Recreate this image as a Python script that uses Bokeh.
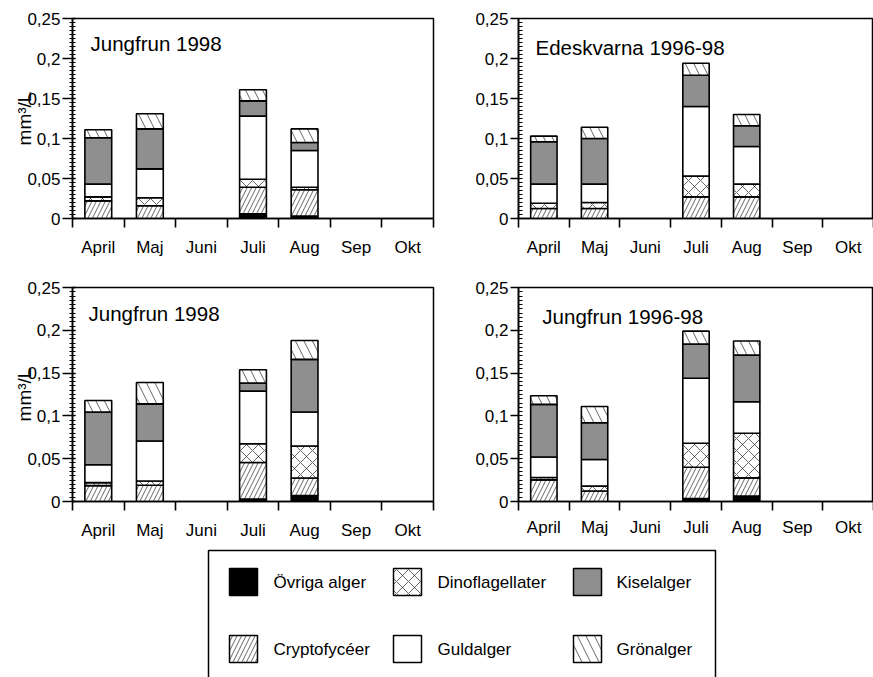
from bokeh.plotting import figure
from bokeh.layouts import column, row
from bokeh.models import Range1d, FixedTicker, ColumnDataSource, Label
from bokeh.embed import file_html
from bokeh.resources import INLINE
from bokeh.core.properties import value

FONT = "Liberation Sans"

# ---------------- data ----------------
months = ["April", "Maj", "Juni", "Juli", "Aug", "Sep", "Okt"]
bar_months = ["April", "Maj", "Juli", "Aug"]
series = ["Övriga alger", "Cryptofycéer", "Dinoflagellater", "Guldalger", "Kiselalger", "Grönalger"]

y_ticks = [0.0, 0.05, 0.1, 0.15, 0.2, 0.25]
y_tick_labels = ["0", "0,05", "0,1", "0,15", "0,2", "0,25"]

# Panel A: Jungfrun 1998 (top)  -- segment heights (mm3/L) for April, Maj, Juli, Aug
a_ovriga = [0.0, 0.0, 0.006, 0.003]
a_crypto = [0.022, 0.016, 0.033, 0.033]
a_dino = [0.005, 0.010, 0.010, 0.003]
a_guld = [0.016, 0.036, 0.079, 0.046]
a_kisel = [0.058, 0.050, 0.019, 0.010]
a_gron = [0.010, 0.019, 0.014, 0.017]

# Panel B: Edeskvarna 1996-98
b_ovriga = [0.0, 0.0, 0.0, 0.0]
b_crypto = [0.0125, 0.0125, 0.027, 0.027]
b_dino = [0.0065, 0.0075, 0.026, 0.016]
b_guld = [0.024, 0.023, 0.087, 0.047]
b_kisel = [0.053, 0.057, 0.039, 0.026]
b_gron = [0.007, 0.014, 0.015, 0.014]

# Panel C: Jungfrun 1998 (bottom)
c_ovriga = [0.0, 0.0, 0.003, 0.007]
c_crypto = [0.0185, 0.019, 0.0425, 0.0204]
c_dino = [0.0035, 0.005, 0.022, 0.0374]
c_guld = [0.021, 0.0466, 0.0615, 0.0397]
c_kisel = [0.0615, 0.0434, 0.0095, 0.0615]
c_gron = [0.0135, 0.025, 0.0155, 0.022]

# Panel D: Jungfrun 1996-98
d_ovriga = [0.0, 0.0, 0.0035, 0.0065]
d_crypto = [0.0253, 0.0123, 0.0365, 0.0211]
d_dino = [0.0027, 0.0057, 0.028, 0.0522]
d_guld = [0.024, 0.031, 0.076, 0.0368]
d_kisel = [0.0615, 0.043, 0.040, 0.0544]
d_gron = [0.010, 0.019, 0.015, 0.0165]

# ---------------- styles ----------------
fills = ["black", "white", "white", "white", "#8f8f8f", "white"]
hatches = [" ", "right_diagonal_line", "diagonal_cross", " ", " ", "left_diagonal_line"]
hatch_scales = [8, 9, 12, 8, 8, 17]


def make_panel(title, cols, width, height, left, right, top, bottom,
               title_x, title_y, ylabel, tick_cross, label_standoff):
    p = figure(width=width, height=height, x_range=Range1d(0, 7), y_range=Range1d(0, 0.25),
               output_backend="svg", toolbar_location=None,
               min_border_left=left, min_border_right=right,
               min_border_top=top, min_border_bottom=bottom)
    p.grid.visible = False
    p.outline_line_color = "black"
    p.outline_line_width = 1.5
    p.background_fill_color = "white"
    p.border_fill_color = "white"

    data = {"x": [months.index(m) + 0.5 for m in bar_months]}
    for s, vals in zip(series, cols):
        data[s] = vals
    src = ColumnDataSource(data)
    p.vbar_stack(series, x="x", width=0.52, source=src,
                 fill_color=fills, line_color="black", line_width=1.6,
                 hatch_pattern=hatches, hatch_color="black",
                 hatch_scale=hatch_scales, hatch_weight=0.6)

    # x axis: labels centred, ticks at category boundaries
    xa = p.xaxis[0]
    xa.ticker = FixedTicker(ticks=[i + 0.5 for i in range(len(months))],
                            minor_ticks=list(range(len(months) + 1)))
    xa.major_label_overrides = {i + 0.5: m for i, m in enumerate(months)}
    xa.major_tick_out = 0
    xa.major_tick_in = 0
    xa.minor_tick_out = 9
    xa.minor_tick_in = 0
    xa.major_label_standoff = label_standoff
    xa.major_label_text_font = FONT
    xa.major_label_text_font_size = "17px"
    xa.major_label_text_color = "black"
    xa.axis_line_width = 1.6
    xa.minor_tick_line_width = 1.6

    ya = p.yaxis[0]
    ya.ticker = FixedTicker(ticks=y_ticks, minor_ticks=[round(0.005 * k, 4) for k in range(51)])
    ya.major_label_overrides = {float(t): lab for t, lab in zip(y_ticks, y_tick_labels)}
    ya.major_label_text_font = FONT
    ya.major_label_text_font_size = "17px"
    ya.major_label_text_color = "black"
    ya.major_label_standoff = 2
    ya.axis_line_width = 1.6
    ya.major_tick_line_width = 1.6
    ya.minor_tick_line_width = 1.2
    if tick_cross:
        ya.major_tick_out = 10
        ya.major_tick_in = 3
        ya.minor_tick_out = 3
        ya.minor_tick_in = 3
    else:
        ya.major_tick_out = 8
        ya.major_tick_in = 0
        ya.minor_tick_out = 0
        ya.minor_tick_in = 4
    if ylabel:
        ya.axis_label = "mm³/L"
        ya.axis_label_text_font = FONT
        ya.axis_label_text_font_size = "19px"
        ya.axis_label_text_font_style = "normal"
        ya.axis_label_text_color = "black"
        ya.axis_label_standoff = -11

    p.add_layout(Label(x=title_x, y=title_y, text=title, text_font=FONT,
                       text_font_size="20.5px", text_color="black",
                       text_baseline="alphabetic", text_align="left"))
    return p


p_a = make_panel("Jungfrun 1998", [a_ovriga, a_crypto, a_dino, a_guld, a_kisel, a_gron],
                 436, 270, 72, 3, 18, 49, 0.35, 0.219, True, True, 10)
p_b = make_panel("Edeskvarna 1996-98", [b_ovriga, b_crypto, b_dino, b_guld, b_kisel, b_gron],
                 437, 270, 82, 0, 18, 52, 0.335, 0.214, False, False, 10)
p_c = make_panel("Jungfrun 1998", [c_ovriga, c_crypto, c_dino, c_guld, c_kisel, c_gron],
                 436, 275, 72, 3, 16, 44, 0.31, 0.2198, True, True, 10)
p_d = make_panel("Jungfrun 1996-98", [d_ovriga, d_crypto, d_dino, d_guld, d_kisel, d_gron],
                 437, 275, 82, 0, 17, 41, 0.47, 0.2166, False, False, 7)

# ---------------- legend ----------------
leg = figure(width=873, height=132, x_range=Range1d(0, 873), y_range=Range1d(677, 545),
             output_backend="svg", toolbar_location=None,
             min_border_left=0, min_border_right=0, min_border_top=0, min_border_bottom=0)
leg.axis.visible = False
leg.grid.visible = False
leg.outline_line_color = None
leg.quad(left=208, right=715, top=550, bottom=700, fill_color=None,
         line_color="black", line_width=1.5)

legend_order = ["Övriga alger", "Dinoflagellater", "Kiselalger",
                "Cryptofycéer", "Guldalger", "Grönalger"]
sw_left = [229, 393, 573]
txt_left = [273, 437, 616]
row_top = [568, 635]
for k, name in enumerate(legend_order):
    r, c = divmod(k, 3)
    i = series.index(name)
    leg.quad(left=sw_left[c], right=sw_left[c] + 28, top=row_top[r], bottom=row_top[r] + 27,
             fill_color=fills[i], line_color="black", line_width=1.5,
             hatch_pattern=hatches[i], hatch_color="black",
             hatch_scale=hatch_scales[i], hatch_weight=0.6)
    leg.text(x=[txt_left[c]], y=[row_top[r] + 14], text=[name],
             text_font=value(FONT), text_font_size="17px", text_color="black",
             text_baseline="middle", text_align="left")

layout = column(row(p_a, p_b, spacing=0), row(p_c, p_d, spacing=0), leg, spacing=0)

open("out.html", "w").write(file_html(layout, INLINE))
